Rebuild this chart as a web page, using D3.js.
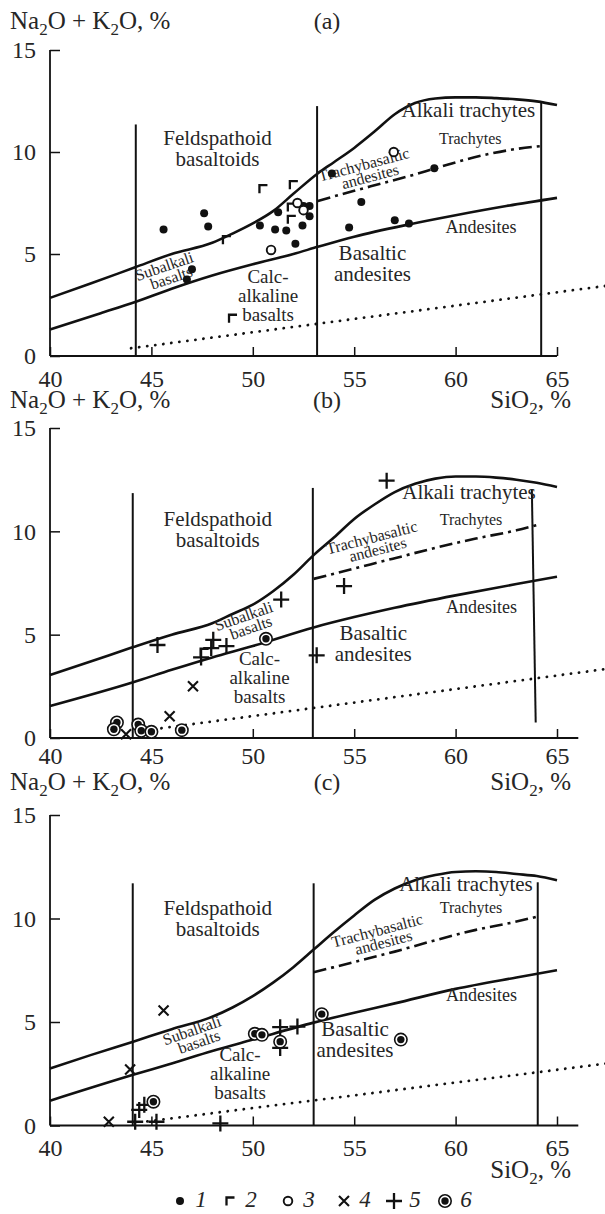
<!DOCTYPE html>
<html>
<head>
<meta charset="utf-8">
<script src="https://cdn.jsdelivr.net/npm/d3@7"></script>
<style>
  body { margin: 0; background: #fff; }
  svg { display: block; }
  text { font-family: "Liberation Serif", "Times New Roman", serif; fill: #262626; }
</style>
</head>
<body>
<svg id="chart" width="605" height="1214"></svg>
<script>
// ---- data (SiO2 %, Na2O+K2O %) ----
var xTicks = [40, 45, 50, 55, 60, 65];
var yTicks = [0, 5, 10, 15];

// panel (a) samples
var aDots = [[45.6,6.2],[47.6,7.0],[47.8,6.35],[47.0,4.25],[46.75,3.75],[50.35,6.4],[51.25,7.05],[51.1,6.2],
             [51.65,6.15],[52.45,6.4],[52.1,5.5],[52.8,6.85],[52.5,7.35],[52.8,7.35],[54.75,6.3],[53.9,8.95],
             [58.95,9.2],[55.35,7.55],[57.0,6.65],[57.7,6.5]];
var aCorners = [[50.5,8.2],[52.0,8.4],[48.7,5.7],[49.0,1.85],[51.9,7.3],[51.9,6.7]];
var aRings = [[50.9,5.2],[52.2,7.5],[52.5,7.15],[56.95,10.0]];

// panel (b) samples
var bCorners = [[47.6,4.15]];
var bCrosses = [[47.05,2.5],[45.9,1.05],[43.75,0.18]];
var bPluses = [[51.4,6.7],[45.3,4.5],[48.05,4.75],[47.95,4.35],[48.7,4.45],[47.45,3.9],[53.15,4.0],[56.6,12.45],[54.5,7.35]];
var bCircDots = [[50.65,4.8],[43.3,0.75],[43.15,0.42],[44.35,0.65],[44.5,0.35],[45.0,0.3],[46.5,0.38]];

// panel (c) samples
var cCrosses = [[45.6,5.55],[43.95,2.7],[42.9,0.18]];
var cPluses = [[51.35,4.75],[52.2,4.78],[51.35,3.75],[44.65,1.0],[44.4,0.75],[44.2,0.18],[45.25,0.18],[48.4,0.1]];
var cCircDots = [[45.1,1.15],[50.1,4.43],[50.45,4.38],[51.35,4.05],[53.4,5.38],[57.3,4.15]];

// field boundaries
var aUpper = [[40,2.85],[42,3.55],[44.2,4.35],[46,5.0],[48,5.55],[49,6.0],[50,6.5],[51,7.1],[52,7.95],[53.2,8.95],
              [54,9.5],[55,10.2],[56,11.0],[57,11.85],[58,12.4],[59,12.62],[60,12.68],[61,12.68],[62,12.64],[63,12.58],[64,12.48],[65,12.3]];
var aLower = [[40,1.3],[42.5,2.1],[44.2,2.65],[46,3.3],[48,3.95],[50,4.5],[52,5.0],[53.2,5.35],[55,5.85],[57.7,6.45],[60,6.9],[62.5,7.35],[65,7.75]];
var aDashDot = [[53.2,7.6],[55,8.1],[56.4,8.47],[58,8.9],[59,9.2],[61.4,9.85],[63,10.15],[64.3,10.3]];
var aDotted = [[44,0.38],[67.5,3.45]];
var aVerticals = [[44.23,11.35,44.23,0],[53.17,12.25,53.17,0],[64.22,12.45,64.22,0]];

var bUpper = [[40,3.05],[42,3.7],[44.1,4.4],[46,5.0],[48,5.55],[49,6.0],[50,6.45],[51,7.1],[52,7.9],[53,8.85],[54,9.7],
              [55,10.6],[56,11.3],[57,11.9],[58,12.3],[59,12.55],[60,12.65],[61,12.65],[62,12.6],[63,12.5],[64,12.35],[65,12.15]];
var bLower = [[40,1.55],[44.1,2.7],[46,3.3],[48,3.9],[50,4.45],[53,5.35],[55,5.85],[57,6.3],[60,6.9],[63,7.45],[65,7.8]];
var bDashDot = [[53,7.7],[55,8.2],[57,8.7],[59,9.2],[61,9.65],[63,10.05],[64,10.3]];
var bDotted = [[45.1,0.42],[67.5,3.35]];
var bVerticals = [[44.08,11.85,44.08,0],[52.96,12.1,52.96,0],[63.76,12.05,63.95,0.75]];

var cUpper = [[40,2.75],[42,3.4],[44.1,4.05],[46,4.65],[48,5.25],[49,5.7],[50,6.25],[51,6.9],[52,7.65],[53,8.5],[54,9.35],
              [55,10.15],[56,10.9],[57,11.45],[58,11.85],[59,12.1],[60,12.25],[61,12.28],[62,12.25],[63,12.15],[64,12.05],[65,11.85]];
var cLower = [[40,1.2],[44.1,2.45],[46,3.0],[48,3.6],[50,4.15],[53,4.97],[55,5.45],[57,5.9],[60,6.6],[63,7.15],[65,7.5]];
var cDashDot = [[53,7.4],[55,7.9],[57,8.4],[59,8.95],[61,9.45],[63,9.85],[64.05,10.1]];
var cDotted = [[44.8,0.2],[67.5,3.0]];
var cVerticals = [[44.08,11.7,44.08,0],[53.0,11.7,53.0,0],[64.05,11.75,64.05,0]];

// field names: [lines, x, y, font size, rotation]
var aNames = [[["Feldspathoid","basaltoids"],48.26,10.34,21,0],[["Alkali trachytes"],60.63,11.73,21,0],
              [["Trachytes"],60.72,10.39,16,0],[["Andesites"],61.25,6.01,18,0],[["Basaltic","andesites"],55.9,4.73,21,0],
              [["Calc-","alkaline","basalts"],50.75,3.58,19,0],[["Trachybasaltic","andesites"],55.56,9.07,16,-15],
              [["Subalkali","basalts"],45.74,4.09,16,-19]];
var bNames = [[["Feldspathoid","basaltoids"],48.27,10.24,21,0],[["Alkali trachytes"],60.66,11.55,21,0],
              [["Trachytes"],60.76,10.3,16,0],[["Andesites"],61.28,6.06,18,0],[["Basaltic","andesites"],55.94,4.74,21,0],
              [["Calc-","alkaline","basalts"],50.33,3.55,19,0],[["Trachybasaltic","andesites"],55.94,9.39,16,-14.5],
              [["Subalkali","basalts"],49.66,5.59,16,-19.4]];
var cNames = [[["Feldspathoid","basaltoids"],48.27,10.17,21,0],[["Alkali trachytes"],60.51,11.33,21,0],
              [["Trachytes"],60.76,10.28,16,0],[["Andesites"],61.28,6.01,18,0],[["Basaltic","andesites"],55.04,4.32,21,0],
              [["Calc-","alkaline","basalts"],49.37,3.12,19,0],[["Trachybasaltic","andesites"],56.22,9.11,16,-14.8],
              [["Subalkali","basalts"],47.1,4.29,16,-19.4]];

var legendKeys = ["1", "2", "3", "4", "5", "6"];

var svg = d3.select("#chart");
svg.append("rect").attr("width", 605).attr("height", 1214).attr("fill", "#fff");

var x = d3.scaleLinear().domain([40, 65]).range([50, 557]);

// draws one symbol of the legend kinds 1..6
function marker(sel, type, cx, cy) {
    var g = sel.append("g").attr("transform", "translate(" + cx + "," + cy + ")");
    if (type == 1) {
        g.append("circle").attr("r", 4).attr("fill", "#111");
    } else if (type == 2) {
        g.append("path").attr("d", "M-3.5,4.5V-3.5H4.5").attr("fill", "none")
         .attr("stroke", "#111").attr("stroke-width", 2.3);
    } else if (type == 3) {
        g.append("circle").attr("r", 4.3).attr("fill", "#fff")
         .attr("stroke", "#111").attr("stroke-width", 1.9);
    } else if (type == 4) {
        g.append("path").attr("d", "M-5,-5L5,5M-5,5L5,-5")
         .attr("stroke", "#111").attr("stroke-width", 2.1);
    } else if (type == 5) {
        g.append("path").attr("d", "M-8,0H8M0,-8V8")
         .attr("stroke", "#111").attr("stroke-width", 2.3);
    } else if (type == 6) {
        g.append("circle").attr("r", 6.2).attr("fill", "#fff")
         .attr("stroke", "#111").attr("stroke-width", 1.6);
        g.append("circle").attr("r", 3.7).attr("fill", "#111");
    }
}

// Na2O + K2O style label with subscripts
function chemText(x0, y0, parts, anchor) {
    var t = svg.append("text").attr("x", x0).attr("y", y0)
               .attr("font-size", 25).attr("text-anchor", anchor || "start");
    var down = false;
    parts.forEach(function(p) {
        var sub = /^\d$/.test(p);
        var s = t.append("tspan").text(p);
        if (sub) { s.attr("font-size", 17).attr("dy", 6); down = true; }
        else if (down) { s.attr("dy", -6); down = false; }
    });
}

var panels = [
    { tag: "(a)", top: 50, bottom: 356, xEnd: 65, tickPad: 14, head: 29, sio2: 408,
      upper: aUpper, lower: aLower, dashDot: aDashDot, dotted: aDotted, verticals: aVerticals, names: aNames,
      sets: [[aDots, 1], [aCorners, 2], [aRings, 3]] },
    { tag: "(b)", top: 428, bottom: 738, xEnd: 66.05, tickPad: 9, head: 408, sio2: 790,
      upper: bUpper, lower: bLower, dashDot: bDashDot, dotted: bDotted, verticals: bVerticals, names: bNames,
      sets: [[bCorners, 2], [bCrosses, 4], [bPluses, 5], [bCircDots, 6]] },
    { tag: "(c)", top: 815, bottom: 1125.5, xEnd: 66.05, tickPad: 13, head: 790, sio2: 1178,
      upper: cUpper, lower: cLower, dashDot: cDashDot, dotted: cDotted, verticals: cVerticals, names: cNames,
      sets: [[cCrosses, 4], [cPluses, 5], [cCircDots, 6]] }
];

panels.forEach(function(p) {
    var y = d3.scaleLinear().domain([0, 15]).range([p.bottom, p.top]);
    var g = svg.append("g");

    // headers
    chemText(10, p.head, ["Na", "2", "O + K", "2", "O, %"]);
    svg.append("text").attr("x", 327).attr("y", p.head).attr("font-size", 24)
       .attr("text-anchor", "middle").text(p.tag);

    // axes
    var xAxis = d3.axisBottom(x).tickValues(xTicks).tickSize(-9).tickSizeOuter(0).tickPadding(p.tickPad);
    var gx = g.append("g").attr("transform", "translate(0," + y(0) + ")").call(xAxis);
    gx.select(".domain").remove();
    gx.selectAll(".tick line").attr("stroke", "#111").attr("stroke-width", 1.5);
    gx.selectAll(".tick text").attr("font-size", 24).attr("fill", "#262626");

    var yAxis = d3.axisLeft(y).tickValues(yTicks).tickSize(-10).tickSizeOuter(0).tickPadding(14);
    var gy = g.append("g").attr("transform", "translate(" + x(40) + ",0)").call(yAxis);
    gy.select(".domain").remove();
    gy.selectAll(".tick line").attr("stroke", "#111").attr("stroke-width", 1.5);
    gy.selectAll(".tick text").attr("font-size", 24).attr("fill", "#262626");

    g.append("line").attr("x1", x(40)).attr("x2", x(p.xEnd)).attr("y1", y(0)).attr("y2", y(0))
     .attr("stroke", "#111").attr("stroke-width", 1.8);
    g.append("line").attr("x1", x(40)).attr("x2", x(40)).attr("y1", y(0)).attr("y2", y(15))
     .attr("stroke", "#111").attr("stroke-width", 1.8);

    // field boundaries
    var curve = d3.line().x(function(d) { return x(d[0]); }).y(function(d) { return y(d[1]); })
                  .curve(d3.curveMonotoneX);
    var straight = d3.line().x(function(d) { return x(d[0]); }).y(function(d) { return y(d[1]); });

    g.selectAll(".vert").data(p.verticals).enter().append("line")
     .attr("x1", function(d) { return x(d[0]); }).attr("y1", function(d) { return y(d[1]); })
     .attr("x2", function(d) { return x(d[2]); }).attr("y2", function(d) { return y(d[3]); })
     .attr("stroke", "#111").attr("stroke-width", 2);

    g.append("path").attr("d", curve(p.upper)).attr("fill", "none").attr("stroke", "#111").attr("stroke-width", 2.6);
    g.append("path").attr("d", curve(p.lower)).attr("fill", "none").attr("stroke", "#111").attr("stroke-width", 2.6);
    g.append("path").attr("d", curve(p.dashDot)).attr("fill", "none").attr("stroke", "#111")
     .attr("stroke-width", 2.6).attr("stroke-dasharray", "13,5,3,5");
    g.append("path").attr("d", straight(p.dotted)).attr("fill", "none").attr("stroke", "#111")
     .attr("stroke-width", 2.8).attr("stroke-linecap", "round").attr("stroke-dasharray", "0.1,8");

    // field names
    p.names.forEach(function(n) {
        var lines = n[0], fs = n[3], rot = n[4];
        var tg = g.append("g").attr("transform", "translate(" + x(n[1]) + "," + y(n[2]) + ") rotate(" + rot + ")");
        var lh = rot ? fs * 0.82 : fs * 1.0;
        lines.forEach(function(l, i) {
            var yy = rot ? (i - (lines.length - 1) / 2) * lh + fs * 0.33 : i * lh;
            tg.append("text").attr("x", rot && i > 0 ? 3 : 0).attr("y", yy)
              .attr("font-size", fs).attr("text-anchor", "middle").text(l);
        });
    });

    // samples
    p.sets.forEach(function(s) {
        s[0].forEach(function(d) { marker(g, s[1], x(d[0]), y(d[1])); });
    });

    // SiO2 label under the panel
    chemText(571, p.sio2, ["SiO", "2", ", %"], "end");
});

// legend
var legendX = [180, 230, 288, 344, 394, 445];
var lg = svg.append("g");
legendKeys.forEach(function(k, i) {
    marker(lg, i + 1, legendX[i], 1201);
    lg.append("text").attr("x", legendX[i] + 21).attr("y", 1207).attr("font-size", 23)
      .attr("font-style", "italic").attr("text-anchor", "middle").text(k);
});
</script>
</body>
</html>
